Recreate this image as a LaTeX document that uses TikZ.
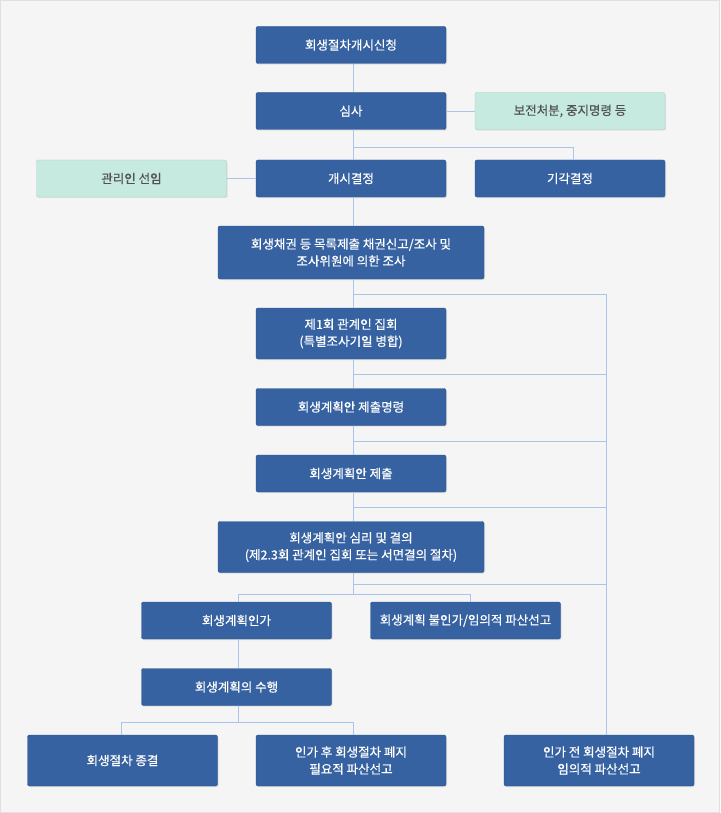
\documentclass[tikz,border=0pt]{standalone}
\usepackage{fontspec}
\setmainfont{Noto Sans CJK KR}
\newfontfamily\boxfont{Noto Sans CJK KR}[FakeBold=0.5]
\usetikzlibrary{shadows}

\definecolor{boxblue}{HTML}{3662A1}
\definecolor{boxedge}{HTML}{2A5391}
\definecolor{notegreen}{HTML}{C6E9E0}
\definecolor{noteedge}{HTML}{A6D4C8}
\definecolor{linkblue}{HTML}{A9C5EA}
\definecolor{paper}{HTML}{F5F5F5}

\tikzset{
  stage/.style={draw=boxedge, fill=boxblue, text=white, rounded corners=2pt,
    minimum width=190pt, minimum height=37pt, inner sep=0pt, align=center,
    font=\boxfont\fontsize{12.5}{17}\selectfont,
    drop shadow={shadow xshift=1pt, shadow yshift=-1.2pt, opacity=0.18}},
  wide/.style={stage, minimum width=266pt},
  note/.style={stage, draw=noteedge, fill=notegreen, text=black!68},
  link/.style={draw=linkblue, line width=0.8pt}
}

\begin{document}
\begin{tikzpicture}[x=1pt, y=-1pt]
    \fill[paper, draw=black!12] (0.5,0.5) rectangle (719.5,812.5);
    \useasboundingbox (0,0) rectangle (720,813);

    \node[stage] (apply) at (351,45) {회생절차개시신청};
    \node[stage] (exam) at (351,111) {심사};
    \node[note] (preserve) at (570,111) {보전처분, 중지명령 등};
    \node[note] (trustee) at (131.5,178.5) {관리인 선임};
    \node[stage] (open) at (351,178.5) {개시결정};
    \node[stage] (dismiss) at (570,178.5) {기각결정};
    \node[wide, minimum height=53pt] (claims) at (351,252.5) {회생채권 등 목록제출 채권신고/조사 및\\조사위원에 의한 조사};
    \node[stage, minimum height=51pt] (meet) at (351,333.5) {제1회 관계인 집회\\(특별조사기일 병합)};
    \node[stage] (order) at (351,407) {회생계획안 제출명령};
    \node[stage] (submit) at (351,473.5) {회생계획안 제출};
    \node[wide, minimum height=51pt] (vote) at (351,547) {회생계획안 심리 및 결의\\(제2.3회 관계인 집회 또는 서면결의 절차)};
    \node[stage] (approve) at (236.5,620.5) {회생계획인가};
    \node[stage] (reject) at (465.5,620.5) {회생계획 불인가/임의적 파산선고};
    \node[stage] (perform) at (236.5,687) {회생계획의 수행};
    \node[stage, minimum height=51pt] (close) at (122.5,760.5) {회생절차 종결};
    \node[stage, minimum height=51pt] (after) at (351,760.5) {인가 후 회생절차 폐지\\필요적 파산선고};
    \node[stage, minimum height=51pt] (before) at (599,760.5) {인가 전 회생절차 폐지\\임의적 파산선고};

    % main line
    \draw[link] ([xshift=2.5pt]apply.south) -- ([xshift=2.5pt]exam.north);
    \draw[link] ([xshift=2.5pt]exam.south) -- ([xshift=2.5pt]open.north);
    \draw[link] ([xshift=2.5pt]open.south) -- ([xshift=2.5pt]claims.north);
    \draw[link] ([xshift=2.5pt]claims.south) -- ([xshift=2.5pt]meet.north);
    \draw[link] ([xshift=2.5pt]meet.south) -- ([xshift=2.5pt]order.north);
    \draw[link] ([xshift=2.5pt]order.south) -- ([xshift=2.5pt]submit.north);
    \draw[link] ([xshift=2.5pt]submit.south) -- ([xshift=2.5pt]vote.north);
    \draw[link] (exam.east) -- (preserve.west);
    \draw[link] (trustee.east) -- (open.west);

    \coordinate (split1) at (353.5,147);
    \draw[link] (split1) -| ([xshift=3.5pt]dismiss.north);

    % side line to the right
    \foreach \y [count=\i] in {294,374,441,507,584}
             {
               \coordinate (m\i) at (353.5,\y);
               \coordinate (r\i) at (606.5,\y);
               \draw[link] (m\i) -- (r\i);
             }
    \draw[link] (r1) -- (r1 |- before.north);

    \coordinate (split2) at (353.5,594);
    \draw[link] ([xshift=2.5pt]vote.south) -- (split2);
    \draw[link] (split2) -| ([xshift=2.2pt]approve.north);
    \draw[link] (split2) -| ([xshift=5pt]reject.north);
    \draw[link] ([xshift=2.2pt]approve.south) -- ([xshift=2.2pt]perform.north);

    \coordinate (split3) at (238.7,722.7);
    \draw[link] ([xshift=2.2pt]perform.south) -- (split3);
    \draw[link] (split3) -| ([xshift=-0.8pt]close.north);
    \draw[link] (split3) -| ([xshift=2.5pt]after.north);

  \end{tikzpicture}
\end{document}
